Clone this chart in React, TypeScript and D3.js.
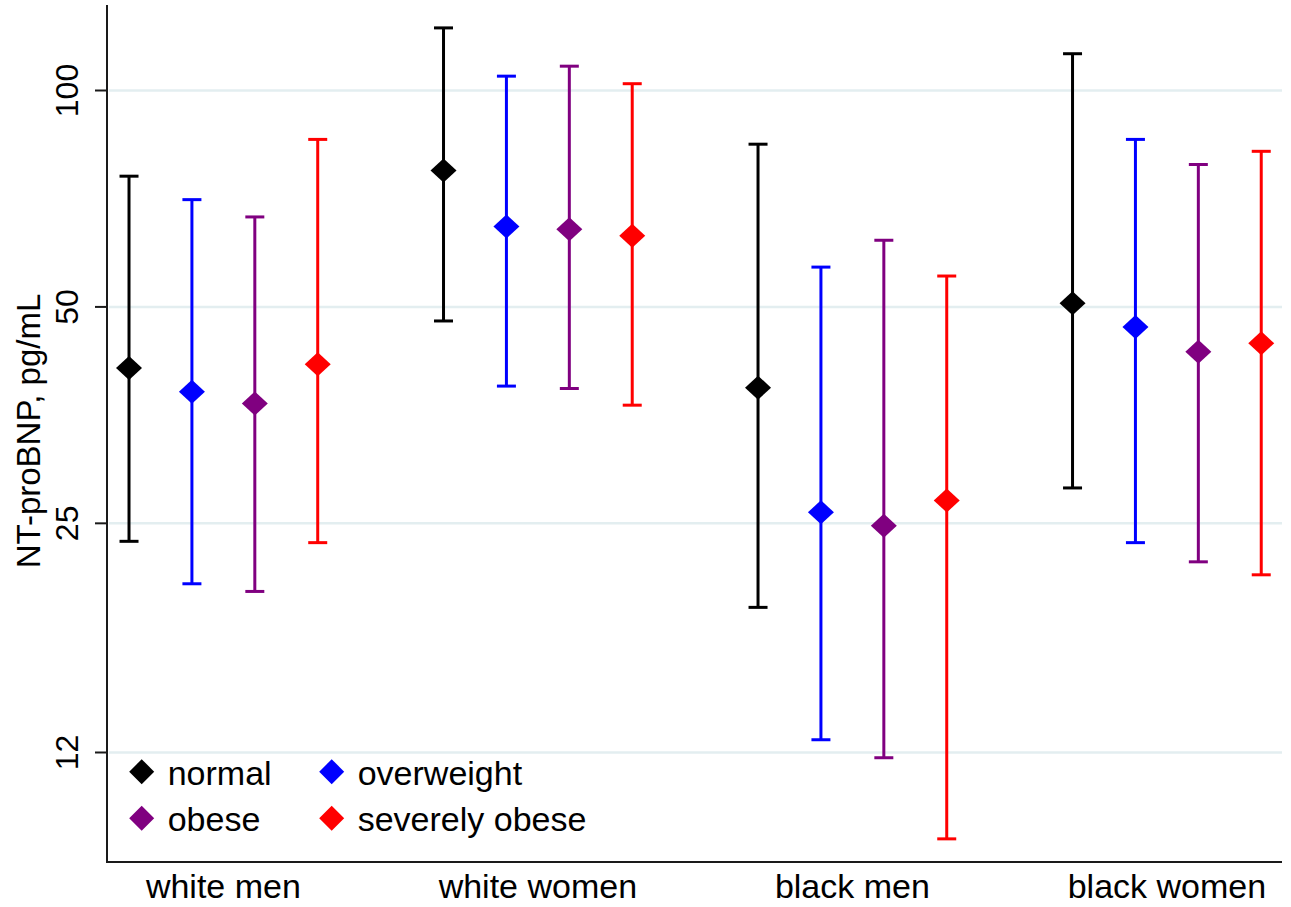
import React from 'react';
import * as d3 from 'd3';

// groups on the x axis, weight classes as series
const groups = ['white men', 'white women', 'black men', 'black women'];
const series = ['normal', 'overweight', 'obese', 'severely obese'];
const seriesColors = ['#000000', '#0000ff', '#800080', '#ff0000'];

// geometric means and 95% CI, pg/mL (one value per group)
const normalEst = [41.1, 77.4, 38.6, 50.6];
const normalLo = [23.6, 47.8, 19.1, 28.0];
const normalHi = [76.0, 122.2, 84.2, 112.5];

const overweightEst = [38.1, 64.7, 25.9, 46.9];
const overweightLo = [20.6, 38.8, 12.5, 23.5];
const overweightHi = [70.5, 104.7, 56.8, 85.5];

const obeseEst = [36.7, 64.1, 24.8, 43.3];
const obeseLo = [20.1, 38.5, 11.8, 22.1];
const obeseHi = [66.7, 108.1, 61.9, 78.9];

const severeEst = [41.6, 62.8, 26.9, 44.5];
const severeLo = [23.5, 36.5, 9.1, 21.2];
const severeHi = [85.5, 102.2, 55.2, 82.3];

const yTicks = [12, 25, 50, 100];

const W = 1291;
const H = 907;
const FONT = "Arial, 'Liberation Sans', sans-serif";

const est = [normalEst, overweightEst, obeseEst, severeEst];
const lo = [normalLo, overweightLo, obeseLo, severeLo];
const hi = [normalHi, overweightHi, obeseHi, severeHi];

export default function App() {
  const plot = { left: 107, right: 1282, top: 5, bottom: 862 };

  // position = group * 5 + series index (one empty slot between groups)
  const x = d3.scaleLinear().domain([-0.35, 18.33]).range([plot.left, plot.right]);
  const y = d3.scaleLog().domain([8.45, 131.5]).range([plot.bottom, plot.top]);

  const points = [];
  series.forEach((s, si) => {
    groups.forEach((g, gi) => {
      points.push({
        key: `${s}-${g}`,
        pos: gi * 5 + si,
        est: est[si][gi],
        lo: lo[si][gi],
        hi: hi[si][gi],
        color: seriesColors[si],
      });
    });
  });

  const diamond = (cx, cy, hw, hh) =>
    `M${cx},${cy - hh}L${cx + hw},${cy}L${cx},${cy + hh}L${cx - hw},${cy}Z`;

  const capHalf = 9.5;

  // legend layout: 2 columns x 2 rows
  const legendCols = [141.7, 331.7];
  const legendRows = [771.7, 818.3];

  return (
    <svg
      width={W}
      height={H}
      style={{ position: 'absolute', left: 0, top: 0, background: '#fff' }}
      fontFamily={FONT}
    >
      {/* grid */}
      {yTicks.map(t => (
        <line
          key={`g${t}`}
          x1={plot.left + 2}
          x2={plot.right}
          y1={y(t)}
          y2={y(t)}
          stroke="#e3eef0"
          strokeWidth={2.5}
        />
      ))}

      {/* axes */}
      <line x1={plot.left} x2={plot.left} y1={plot.top} y2={plot.bottom + 1} stroke="#1a1a1a" strokeWidth={2} />
      <line x1={plot.left} x2={plot.right} y1={plot.bottom} y2={plot.bottom} stroke="#1a1a1a" strokeWidth={2} />

      {yTicks.map(t => (
        <g key={`t${t}`}>
          <line x1={plot.left - 12} x2={plot.left} y1={y(t)} y2={y(t)} stroke="#1a1a1a" strokeWidth={2} />
          <text
            transform={`translate(78,${y(t)}) rotate(-90)`}
            textAnchor="middle"
            fontSize={32}
            fill="#000"
          >
            {t}
          </text>
        </g>
      ))}

      <text transform="translate(40,431) rotate(-90)" textAnchor="middle" fontSize={33} fill="#000">
        NT-proBNP, pg/mL
      </text>

      {groups.map((g, gi) => (
        <text key={g} x={x(gi * 5 + 1.5)} y={898} textAnchor="middle" fontSize={34} fill="#000">
          {g}
        </text>
      ))}

      {/* error bars and markers */}
      {points.map(p => {
        const cx = x(p.pos);
        return (
          <g key={p.key} stroke={p.color} strokeWidth={3}>
            <line x1={cx} x2={cx} y1={y(p.hi)} y2={y(p.lo)} />
            <line x1={cx - capHalf} x2={cx + capHalf} y1={y(p.hi)} y2={y(p.hi)} />
            <line x1={cx - capHalf} x2={cx + capHalf} y1={y(p.lo)} y2={y(p.lo)} />
            <path d={diamond(cx, y(p.est), 13, 12)} fill={p.color} stroke="none" />
          </g>
        );
      })}

      {/* legend */}
      {series.map((s, si) => {
        const lx = legendCols[si % 2];
        const ly = legendRows[Math.floor(si / 2)];
        return (
          <g key={`l${s}`}>
            <path d={diamond(lx, ly, 12.5, 12.5)} fill={seriesColors[si]} />
            <text x={lx + 26} y={ly + 13} fontSize={34} fill="#000">
              {s}
            </text>
          </g>
        );
      })}
    </svg>
  );
}
